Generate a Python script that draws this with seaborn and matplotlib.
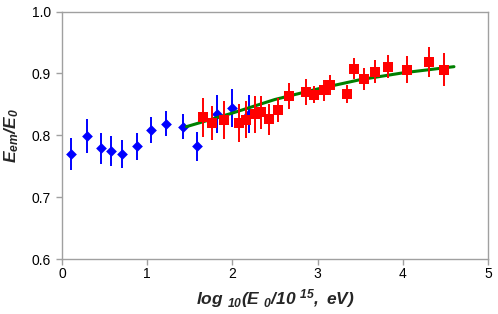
import numpy as np
import pandas as pd
import matplotlib
matplotlib.use('Agg')
import matplotlib.pyplot as plt
import seaborn as sns

# blue diamonds
blue_x = [0.11, 0.29, 0.46, 0.57, 0.70, 0.88, 1.04, 1.22, 1.42, 1.59, 1.82, 1.99, 2.20]
blue_y = [0.770, 0.799, 0.779, 0.775, 0.770, 0.782, 0.809, 0.819, 0.814, 0.782, 0.834, 0.844, 0.834]
blue_err = [0.026, 0.027, 0.025, 0.024, 0.023, 0.022, 0.021, 0.020, 0.020, 0.023, 0.031, 0.031, 0.031]

# red squares
red_x = [1.65, 1.76, 1.90, 2.08, 2.16, 2.26, 2.34, 2.43, 2.53, 2.66, 2.86, 2.96, 3.08, 3.15,
         3.34, 3.43, 3.54, 3.67, 3.83, 4.05, 4.31, 4.48]
red_y = [0.829, 0.820, 0.825, 0.820, 0.825, 0.834, 0.837, 0.826, 0.841, 0.864, 0.870, 0.866, 0.873, 0.882,
         0.867, 0.908, 0.891, 0.903, 0.911, 0.906, 0.918, 0.906]
red_err = [0.031, 0.028, 0.031, 0.030, 0.030, 0.030, 0.027, 0.025, 0.019, 0.021, 0.021, 0.013, 0.017, 0.016,
           0.015, 0.017, 0.018, 0.018, 0.019, 0.022, 0.024, 0.027]

# green fit curve
fit_x = [1.46, 2.0, 2.5, 3.0, 3.5, 4.0, 4.6]
fit_y = [0.814, 0.836, 0.858, 0.875, 0.890, 0.901, 0.911]

sns.set_style('white')
plt.rcParams['font.family'] = ['Liberation Sans', 'DejaVu Sans']
plt.rcParams['mathtext.fontset'] = 'custom'
plt.rcParams['mathtext.bfit'] = 'Liberation Sans:bold:italic'
plt.rcParams['mathtext.it'] = 'Liberation Sans:italic'
plt.rcParams['mathtext.bf'] = 'Liberation Sans:bold'
plt.rcParams['mathtext.rm'] = 'Liberation Sans'

fig = plt.figure(figsize=(4.98, 3.14), dpi=100)
ax = fig.add_axes([0.1245, 0.175, 0.8555, 0.788])

blue_df = pd.DataFrame({'x': blue_x, 'y': blue_y})
red_df = pd.DataFrame({'x': red_x, 'y': red_y})
fit_df = pd.DataFrame({'x': fit_x, 'y': fit_y})

ax.errorbar(blue_x, blue_y, yerr=blue_err, fmt='none', ecolor='#0000ff', elinewidth=1.4, zorder=2)
sns.scatterplot(data=blue_df, x='x', y='y', marker='D', s=30, color='#0000ff', edgecolor='#0000ff',
                linewidth=0, ax=ax, zorder=3)
sns.lineplot(data=fit_df, x='x', y='y', color='#008000', linewidth=2.2, ax=ax, zorder=4)
ax.errorbar(red_x, red_y, yerr=red_err, fmt='none', ecolor='#ff0000', elinewidth=1.4, zorder=5)
sns.scatterplot(data=red_df, x='x', y='y', marker='s', s=60, color='#ff0000', edgecolor='#ff0000',
                linewidth=0, ax=ax, zorder=6)

ax.set_xlim(0, 5)
ax.set_ylim(0.6, 1.0)
ax.set_xticks([0, 1, 2, 3, 4, 5])
ax.set_yticks([0.6, 0.7, 0.8, 0.9, 1.0])
ax.set_yticklabels(['0.6', '0.7', '0.8', '0.9', '1.0'])

for s in ax.spines.values():
    s.set_color('#a0a0a0')
    s.set_linewidth(1.0)
ax.tick_params(axis='both', which='both', direction='out', length=4, width=1, color='#a0a0a0',
               labelsize=10, labelcolor='black', bottom=True, left=True, pad=4)
ax.tick_params(axis='x', pad=2)

ax.set_xlabel(r'$\mathbfit{log}$ $_{\mathbfit{10}}$$\mathbfit{(E}$ $_{\mathbfit{0}}$$\mathbfit{/10}$ $^{\mathbfit{15}}$$\mathbfit{,\ eV)}$',
              fontsize=12.5, labelpad=4)
ax.set_ylabel(r'$\mathbfit{E}_{\mathbfit{em}}\mathbfit{/E}_{\mathbfit{0}}$', fontsize=12.5, labelpad=8)

fig.savefig('out.png', dpi=100)
